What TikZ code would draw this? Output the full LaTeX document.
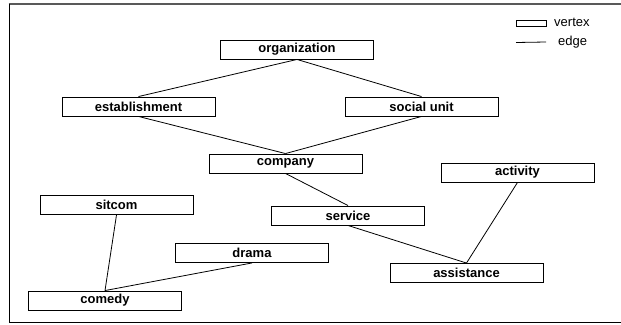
\documentclass[tikz,border=0pt]{standalone}
\usepackage{fontspec}
\setmainfont{Liberation Sans}
\usepackage{tikz}
\usetikzlibrary{positioning}
\tikzset{
  vertex/.style ={draw=black, line width=0.9pt, fill=white, minimum width=153pt,
                  minimum height=19pt, inner sep=0pt,
                  font=\fontsize{13}{15}\selectfont\bfseries},
  edge/.style   ={draw=black, line width=0.8pt},
  keybox/.style ={draw=black, line width=0.8pt, minimum width=30pt,
                  minimum height=6pt, inner sep=0pt},
  keytext/.style={anchor=west, inner sep=0pt, font=\fontsize{13}{15}\selectfont},
}
% vertices: name / x / y / label (x,y in pixels of the frame)
\def\vertexlist{org/297/49.5/organization, est/138.5/106.5/establishment,
  soc/421.5/106.5/social unit, comp/285.5/163.5/company,
  act/517.5/172.5/activity, sit/116.5/205/sitcom, serv/348/215.5/service,
  dra/252/253/drama, assi/466.5/273/assistance, com/105/300.5/comedy}
\def\edgelist{org/est, org/soc, est/comp, soc/comp, comp/serv,
  serv/assi, act/assi, sit/com, dra/com}
\begin{document}
\begin{tikzpicture}[x=1pt,y=-1pt]
\useasboundingbox (0,0) rectangle (621,324);
% frame
\draw[gray!70!black, line width=1.3pt] (8.5,4) -- (621,4);
\draw[black, line width=0.9pt] (9,4) -- (9,322.5) -- (621,322.5);
\foreach \n/\x/\y/\lab in \vertexlist {\node[vertex] (\n) at (\x,\y) {\lab};}
\foreach \a/\b in \edgelist {\draw[edge] (\a.south) -- (\b.north);}
% --- key ---
\node[keybox] (kbox) at (531,23) {};
\node[keytext] (kvertex) at (554,22) {vertex};
\coordinate (kl1) at (516,42.5);
\coordinate (kl2) at (546,42);
\draw[edge] (kl1) -- (kl2);
\node[keytext] (kedge) at (558,42) {edge};
\end{tikzpicture}
\end{document}
